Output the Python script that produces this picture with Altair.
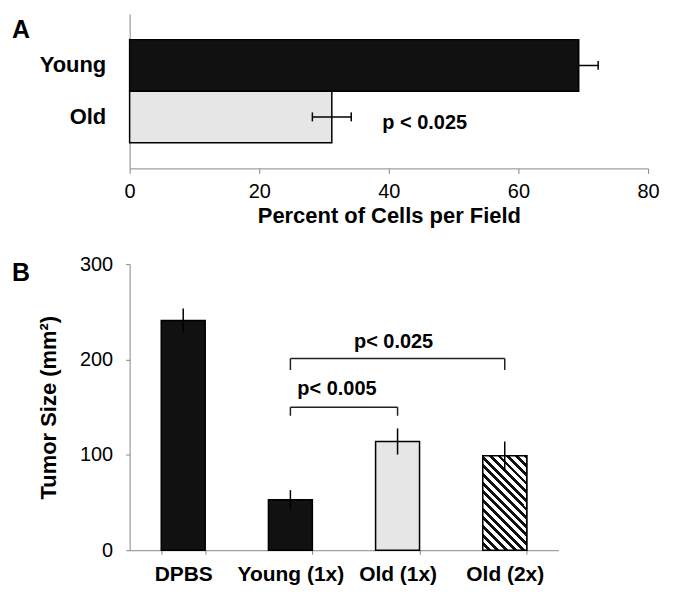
import altair as alt
import pandas as pd

FONT = "Liberation Sans"

# ---- Panel A data ----
a_groups = ["Young", "Old"]
a_values = [69.3, 31.2]
a_errors = [3.0, 3.0]
a_fills = ["#111111", "#e6e6e6"]
a_note_text = ["p < 0.025"]
a_note_x = [39]
a_note_group = ["Old"]

# ---- Panel B data ----
b_groups = ["DPBS", "Young (1x)", "Old (1x)", "Old (2x)"]
b_values = [241, 53, 114, 99]
b_errors = [12.5, 10.0, 13.7, 15.0]
b_fills = ["#111111", "#111111", "#e6e6e6", "#ffffff"]

bracket_left = ["Young (1x)", "Young (1x)"]
bracket_right = ["Old (1x)", "Old (2x)"]
bracket_level = [150, 201]
bracket_drop = [9, 12]
bracket_text = ["p< 0.005", "p< 0.025"]
bracket_text_y = [169, 218]

NOVIEW = alt.ViewBackground(stroke="transparent", strokeWidth=0, fill="white")

# ---------------- Panel A ----------------
a_df = pd.DataFrame({"group": a_groups, "value": a_values, "err": a_errors})
a_df["lo"] = a_df["value"] - a_df["err"]
a_df["hi"] = a_df["value"] + a_df["err"]

ya_scale = alt.Scale(domain=a_groups, paddingInner=0, paddingOuter=0.5)
ya = alt.Y("group:N", scale=ya_scale,
           axis=alt.Axis(title=None, labelFontSize=22, labelFontWeight="bold",
                         ticks=False, labelPadding=24))
xa = alt.X("value:Q", scale=alt.Scale(domain=[0, 80], nice=False),
           axis=alt.Axis(values=[0, 20, 40, 60, 80], title="Percent of Cells per Field",
                         grid=False, tickSize=5, labelFontSize=20, labelPadding=8,
                         labelFlush=False,
                         titleFontSize=22, titleFontWeight="bold", titlePadding=4))

bars_a = alt.Chart(a_df).mark_bar(stroke="black", strokeWidth=1.5).encode(
    x=xa, y=ya,
    fill=alt.Fill("group:N", scale=alt.Scale(domain=a_groups, range=a_fills), legend=None),
)


def err_layers(sel):
    base = alt.Chart(a_df).transform_filter(sel)
    rule = base.mark_rule(color="black", strokeWidth=1.5).encode(
        x="lo:Q", x2="hi:Q", y=alt.Y("group:N", scale=ya_scale))
    c1 = base.mark_tick(color="black", thickness=1.5, size=9, opacity=1).encode(
        x="lo:Q", y=alt.Y("group:N", scale=ya_scale))
    c2 = base.mark_tick(color="black", thickness=1.5, size=9, opacity=1).encode(
        x="hi:Q", y=alt.Y("group:N", scale=ya_scale))
    return [rule, c1, c2]


err_under = err_layers(alt.datum.group == "Young")
err_over = err_layers(alt.datum.group == "Old")

note_a = alt.Chart(pd.DataFrame({"t": a_note_text, "x": a_note_x, "group": a_note_group})).mark_text(
    align="left", baseline="middle", dy=6, font=FONT, fontSize=20, fontWeight="bold", color="black"
).encode(x="x:Q", y=alt.Y("group:N", scale=ya_scale), text="t:N")
label_a = alt.Chart(pd.DataFrame({"t": ["A"]})).mark_text(
    align="left", baseline="alphabetic", font=FONT, fontSize=25, fontWeight="bold", color="black"
).encode(x=alt.value(-118), y=alt.value(24), text="t:N")

panel_a = alt.layer(bars_a, *err_under, *err_over, note_a, label_a).properties(
    width=520, height=155, view=NOVIEW)
# put the hidden (Young) error bar beneath the bars
panel_a = alt.layer(*err_under, bars_a, *err_over, note_a, label_a).properties(
    width=520, height=155, view=NOVIEW)

# ---------------- Panel B ----------------
b_df = pd.DataFrame({"group": b_groups, "value": b_values, "err": b_errors})
b_df["lo"] = b_df["value"] - b_df["err"]
b_df["hi"] = b_df["value"] + b_df["err"]

xb_scale = alt.Scale(domain=b_groups, paddingInner=0.59, paddingOuter=0.295)
xb = alt.X("group:N", scale=xb_scale,
           axis=alt.Axis(title=None, labelAngle=0, labelFontSize=21, labelFontWeight="bold",
                         tickBand="extent", tickSize=4, labelPadding=9))
yb = alt.Y("value:Q", scale=alt.Scale(domain=[0, 300], nice=False),
           axis=alt.Axis(values=[0, 100, 200, 300], title="Tumor Size (mm²)", grid=False,
                         tickSize=4, labelFontSize=20, labelPadding=13, labelFlush=False,
                         titleFontSize=22, titleFontWeight="bold", titlePadding=19))

bars_b = alt.Chart(b_df).mark_bar(stroke="black", strokeWidth=1.5).encode(
    x=xb, y=yb,
    fill=alt.Fill("group:N", scale=alt.Scale(domain=b_groups, range=b_fills), legend=None),
)

# diagonal hatch for the last bar (style only)
w, h = 44.1, 94.7
s = (w + h) / (w * w + h * h)
N = 16
stops = []
for k in range(N):
    a0 = k / N
    a1 = (k + 0.45) / N
    a2 = (k + 1) / N
    stops += [alt.GradientStop(offset=a0, color="#111111"),
              alt.GradientStop(offset=a1, color="#111111"),
              alt.GradientStop(offset=a1, color="#ffffff"),
              alt.GradientStop(offset=a2, color="#ffffff")]
hatch = alt.LinearGradient(gradient="linear", stops=stops,
                           x1=1, y1=0, x2=1 - w * s, y2=h * s)
hatch_b = alt.Chart(b_df).transform_filter(alt.datum.group == "Old (2x)").mark_bar(
    fill=hatch, stroke="black", strokeWidth=1.5).encode(x=alt.X("group:N", scale=xb_scale), y="value:Q")

err_b = alt.Chart(b_df).mark_rule(color="black", strokeWidth=1.5).encode(
    x=alt.X("group:N", scale=xb_scale), y="lo:Q", y2="hi:Q")

br_df = pd.DataFrame({"left": bracket_left, "right": bracket_right,
                      "level": bracket_level, "drop": bracket_drop})
br_df["low"] = br_df["level"] - br_df["drop"]
br_h = alt.Chart(br_df).mark_rule(color="#222", strokeWidth=1.5).encode(
    x=alt.X("left:N", scale=xb_scale), x2="right:N", y="level:Q")
br_l = alt.Chart(br_df).mark_rule(color="#222", strokeWidth=1.5).encode(
    x=alt.X("left:N", scale=xb_scale), y="low:Q", y2="level:Q")
br_r = alt.Chart(br_df).mark_rule(color="#222", strokeWidth=1.5).encode(
    x=alt.X("right:N", scale=xb_scale), y="low:Q", y2="level:Q")

t1 = alt.Chart(pd.DataFrame({"t": bracket_text[:1], "g": bracket_left[:1], "y": bracket_text_y[:1]})).mark_text(
    align="left", baseline="middle", dx=7, font=FONT, fontSize=20, fontWeight="bold", color="black"
).encode(x=alt.X("g:N", scale=xb_scale), y="y:Q", text="t:N")
t2 = alt.Chart(pd.DataFrame({"t": bracket_text[1:], "g": bracket_right[:1], "y": bracket_text_y[1:]})).mark_text(
    align="center", baseline="middle", dx=-4, font=FONT, fontSize=20, fontWeight="bold", color="black"
).encode(x=alt.X("g:N", scale=xb_scale), y="y:Q", text="t:N")
label_b = alt.Chart(pd.DataFrame({"t": ["B"]})).mark_text(
    align="left", baseline="alphabetic", font=FONT, fontSize=25, fontWeight="bold", color="black"
).encode(x=alt.value(-118), y=alt.value(17), text="t:N")

panel_b = alt.layer(bars_b, hatch_b, err_b, br_h, br_l, br_r, t1, t2, label_b).properties(
    width=430, height=287, view=NOVIEW)

chart = alt.vconcat(panel_a, panel_b, spacing=96, bounds="flush").resolve_scale(
    fill="independent"
).properties(
    padding={"left": 4, "top": 5, "right": 5, "bottom": 5}
).configure_view(strokeWidth=0, stroke="transparent").configure_axis(
    labelFont=FONT, titleFont=FONT, labelColor="black", titleColor="black",
    domainColor="#222", tickColor="#222", domainWidth=1.2, tickWidth=1.2
).configure(background="white")

chart.save("out.html", embed_options={"renderer": "svg", "actions": False})
